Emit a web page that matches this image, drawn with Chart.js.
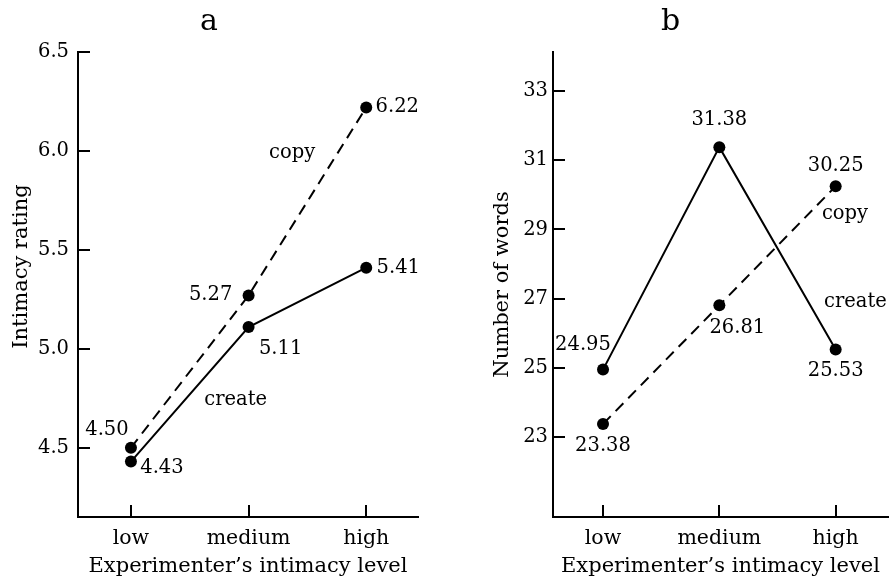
<!DOCTYPE html>
<html>
<head>
<meta charset="utf-8">
<script src="https://cdn.jsdelivr.net/npm/chart.js@4.4.0/dist/chart.umd.min.js"></script>
<style>
body{margin:0;background:#fff;}
#wrap{position:relative;width:894px;height:584px;}
canvas{position:absolute;top:0;}
</style>
</head>
<body>
<div id="wrap">
<canvas id="chartA" width="447" height="584" style="left:0"></canvas>
<canvas id="chartB" width="447" height="584" style="left:447px"></canvas>
</div>
<script>
var levels = ['low', 'medium', 'high'];

// panel a - intimacy rating
var ratingCopy = [4.50, 5.27, 6.22];
var ratingCreate = [4.43, 5.11, 5.41];
var ratingTicks = [4.5, 5.0, 5.5, 6.0, 6.5];

// panel b - number of words
var wordsCreate = [24.95, 31.38, 25.53];
var wordsCopy = [23.38, 26.81, 30.25];
var wordsTicks = [23, 25, 27, 29, 31, 33];

var FONT = '"DejaVu Serif", serif';
var FSIZE = 19.5;
var TSIZE = 21;
Chart.defaults.font.family = FONT;
Chart.defaults.font.size = FSIZE;
Chart.defaults.color = '#000';

function pts(arr){
  return arr.map(function(v, i){ return {x: i, y: v}; });
}

// value labels, series names, y title and inward tick marks
var markup = {
  id: 'markup',
  afterDatasetsDraw: function(chart, args, opts){
    var ctx = chart.ctx, xs = chart.scales.x, ys = chart.scales.y, area = chart.chartArea;
    ctx.save();
    ctx.strokeStyle = '#000';
    ctx.lineWidth = 2;
    ys.ticks.forEach(function(t){
      var y = Math.round(ys.getPixelForValue(t.value));
      ctx.beginPath(); ctx.moveTo(area.left, y); ctx.lineTo(area.left + 12, y); ctx.stroke();
    });
    xs.ticks.forEach(function(t){
      var x = Math.round(xs.getPixelForValue(t.value));
      ctx.beginPath(); ctx.moveTo(x, area.bottom); ctx.lineTo(x, area.bottom - 12); ctx.stroke();
    });
    ctx.fillStyle = '#000';
    ctx.font = FSIZE + 'px ' + FONT;
    ctx.textAlign = 'center';
    ctx.textBaseline = 'middle';
    chart.data.datasets.forEach(function(ds){
      ds.data.forEach(function(p, j){
        var off = ds.labelOffsets[j];
        ctx.fillText(p.y.toFixed(2), xs.getPixelForValue(p.x) + off[0], ys.getPixelForValue(p.y) + off[1]);
      });
      ctx.fillText(ds.label, xs.getPixelForValue(ds.namePos[0]), ys.getPixelForValue(ds.namePos[1]));
    });
    // y axis title
    ctx.font = TSIZE + 'px ' + FONT;
    ctx.translate(opts.titleX, (area.top + area.bottom) / 2 + opts.titleShift);
    ctx.rotate(-Math.PI / 2);
    ctx.fillText(opts.title, 0, 0);
    ctx.restore();
  }
};

function lineSet(label, values, dashed, offsets, namePos){
  return {
    label: label,
    data: pts(values),
    borderColor: '#000',
    backgroundColor: '#000',
    borderWidth: 2,
    borderDash: dashed ? [11, 7] : [],
    pointRadius: 6,
    pointBorderWidth: 0,
    pointBackgroundColor: '#000',
    tension: 0,
    labelOffsets: offsets,
    namePos: namePos
  };
}

function makeChart(id, title, datasets, yCfg, xRange, yWidth, padRight){
  return new Chart(document.getElementById(id), {
    type: 'line',
    data: { datasets: datasets },
    options: {
      responsive: false,
      animation: false,
      devicePixelRatio: 1,
      layout: { padding: { left: 0, right: padRight, top: 0, bottom: 0 } },
      plugins: {
        legend: { display: false },
        tooltip: { enabled: false },
        title: {
          display: true, text: title, color: '#000',
          font: { family: FONT, size: 30, weight: 'normal' },
          padding: { top: 4, bottom: 12 }
        },
        markup: { title: yCfg.title, titleX: yCfg.titleX, titleShift: yCfg.titleShift }
      },
      scales: {
        x: {
          type: 'linear', min: xRange[0], max: xRange[1],
          afterBuildTicks: function(s){ s.ticks = levels.map(function(l, i){ return {value: i}; }); },
          ticks: { callback: function(v){ return levels[v]; }, padding: 9, maxRotation: 0, font: { size: 20.5 } },
          grid: { display: false, drawTicks: false },
          border: { display: true, color: '#000', width: 2 },
          title: { display: true, text: 'Experimenter\u2019s intimacy level', font: { size: TSIZE }, padding: { top: 0, bottom: 5 } },
          afterFit: function(s){ s.height = 67; }
        },
        y: {
          type: 'linear', min: yCfg.min, max: yCfg.max,
          afterBuildTicks: function(s){ s.ticks = yCfg.ticks.map(function(v){ return {value: v}; }); },
          ticks: { callback: yCfg.fmt, padding: yCfg.pad },
          grid: { display: false, drawTicks: false },
          border: { display: true, color: '#000', width: 2 },
          afterFit: function(s){ s.width = yWidth; }
        }
      }
    },
    plugins: [markup]
  });
}

makeChart('chartA', 'a', [
  lineSet('copy', ratingCopy, true, [[-24, -18], [-38, 0], [31, 0]], [1.37, 5.99]),
  lineSet('create', ratingCreate, false, [[31, 6], [32, 22], [32, 0]], [0.89, 4.74])
], {
  min: 4.15, max: 6.5, ticks: ratingTicks, pad: 9, title: 'Intimacy rating',
  titleX: 22, titleShift: -18,
  fmt: function(v){ return v.toFixed(1); }
}, [-0.45, 2.44], 78, 29);

makeChart('chartB', 'b', [
  lineSet('create', wordsCreate, false, [[-20, -25], [0, -27], [0, 21]], [2.17, 26.9]),
  lineSet('copy', wordsCopy, true, [[0, 22], [18, 23], [0, -20]], [2.08, 29.44])
], {
  min: 20.69, max: 34.13, ticks: wordsTicks, pad: 5, title: 'Number of words',
  titleX: 56, titleShift: 0,
  fmt: function(v){ return String(v); }
}, [-0.43, 2.45], 106, 0);
</script>
</body>
</html>
